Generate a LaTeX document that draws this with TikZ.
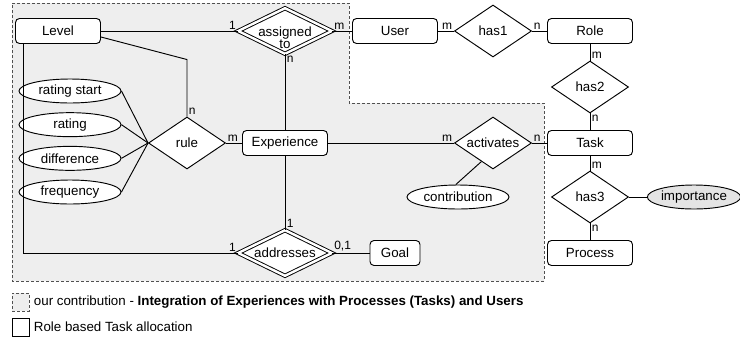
\documentclass[tikz,border=0pt]{standalone}
\usepackage{fontspec}
\setmainfont{Liberation Sans}
\usepackage{tikz}
\usetikzlibrary{shapes.geometric,positioning}
\tikzset{every node/.append style={align=center}}
\definecolor{regiongray}{RGB}{238, 238, 238}
\definecolor{attrgray}{RGB}{228, 228, 228}
\definecolor{dashgray}{RGB}{80, 80, 80}

\begin{document}
\begin{tikzpicture}[
    x=0.75pt, y=-0.75pt,
    on grid,
    font=\fontsize{10}{10.5}\selectfont,
    line width=0.7pt,
    entity/.style={draw, fill=white, rounded corners=3pt, minimum width=63.75pt, minimum height=18.75pt, inner sep=0pt},
    relation/.style={draw, fill=white, diamond, aspect=2, inner sep=0pt, minimum width=57.75pt, minimum height=39pt},
    weakrel/.style={relation, double, double distance=1.8pt, minimum width=70.5pt, minimum height=34.5pt},
    attribute/.style={draw, fill=white, ellipse, inner sep=0pt, minimum width=76.5pt, minimum height=18pt},
    card/.style={font=\fontsize{9}{9}\selectfont, inner sep=1pt},
    contrib/.style={fill=regiongray, draw=dashgray, dash pattern=on 2.25pt off 1.5pt}
]
    \useasboundingbox (0,0) rectangle (740,340);

    % our contribution area
    \draw[contrib] (12,3) -- (349,3) -- (349,103) -- (544,103) -- (544,281) -- (12,281) -- cycle;

    % Nodes - top row
    \node[entity] (level) at (58,31) {Level};
    \node[weakrel, right=170.25pt of level, inner xsep=-8pt, inner ysep=-6pt] (assigned) {\rule{0pt}{17.5pt}assigned\\[-1.5pt]to};
    \node[entity, right=82.5pt of assigned] (user) {User};
    \node[relation, right=73.5pt of user] (has1) {has1};
    \node[entity, right=72.75pt of has1] (role) {Role};

    % Nodes - right column
    \node[relation, below=42pt of role] (has2) {has2};
    \node[entity, below=42pt of has2] (task) {Task};
    \node[relation, below=40.5pt of task] (has3) {has3};
    \node[entity, below=42pt of has3] (process) {Process};
    \node[attribute, fill=attrgray, minimum width=68.5pt, right=78pt of has3] (importance) {importance};

    % Nodes - middle row
    \node[relation, left=72.75pt of task] (activates) {activates};
    \node[attribute, below left=40.5pt and 26.25pt of activates] (contribution) {contribution};
    \node[entity, below=84pt of assigned] (experience) {Experience};
    \node[relation, left=73.5pt of experience] (rule) {rule};

    % Nodes - rule attributes
    \node[attribute, above left=39pt and 87.75pt of rule] (ratingstart) {rating start};
    \node[attribute, below=25.25pt of ratingstart] (rating) {rating};
    \node[attribute, below=25.25pt of rating] (difference) {difference};
    \node[attribute, below=25.25pt of difference] (frequency) {frequency};

    % Nodes - bottom row
    \node[weakrel, below=82.5pt of experience] (addresses) {addresses};
    \node[entity, minimum width=37.5pt, right=82.5pt of addresses] (goal) {Goal};

    % Connections - top row
    \draw (level) -- (assigned) node[card, pos=1, above left] {1};
    \draw (assigned) -- (user) node[card, pos=0, above right] {m};
    \draw (user) -- (has1) node[card, pos=1, above left] {m};
    \draw (has1) -- (role) node[card, pos=0, above right] {n};

    % Connections - right column
    \draw (role) -- (has2) node[card, pos=1, above right] {m};
    \draw (has2) -- (task) node[card, pos=0, below right] {n};
    \draw (task) -- (has3) node[card, pos=1, above right] {m};
    \draw (has3) -- (process) node[card, pos=0, below right] {n};
    \draw (has3) -- (importance);

    % Connections - experience
    \draw (experience) -- (activates) node[card, pos=1, above left] {m};
    \draw (activates) -- (task) node[card, pos=0, above right] {n};
    \draw (contribution.100) -- (activates.-122);
    \draw (assigned) -- (experience) node[card, pos=0, below right] {n};
    \draw (rule) -- (experience) node[card, pos=0, above right] {m};
    \draw (experience) -- (addresses) node[card, pos=1, above right] {1};
    \draw (addresses) -- (goal) node[card, pos=0, above right] {0,1};

    % Connections - level
    \draw ([xshift=6pt]level.south west) |- (addresses) node[card, pos=1, above left] {1};
    \draw ([yshift=-4.5pt]level.east) -- ([yshift=42.75pt]rule.north) -- (rule.north) node[card, pos=1, above right] {n};

    % Connections - rule attributes
    \draw (ratingstart.east) -- (rule.west);
    \draw (rating.east) -- (rule.west);
    \draw (difference.east) -- (rule.west);
    \draw (frequency.east) -- (rule.west);

    % Legend
    \node[contrib, minimum width=12.75pt, minimum height=13.5pt, inner sep=0pt] (legcontrib) at (20.5,302) {};
    \node[on grid=false, right=3pt of legcontrib, inner sep=0pt] (legcontribtext) {our contribution - \textbf{Integration of Experiences with Processes (Tasks) and Users}};
    \node[draw, fill=white, minimum width=12.75pt, minimum height=13.5pt, inner sep=0pt] (legrole) at (20.5,327) {};
    \node[on grid=false, right=3pt of legrole, inner sep=0pt] (legroletext) {Role based Task allocation};
\end{tikzpicture}
\end{document}
